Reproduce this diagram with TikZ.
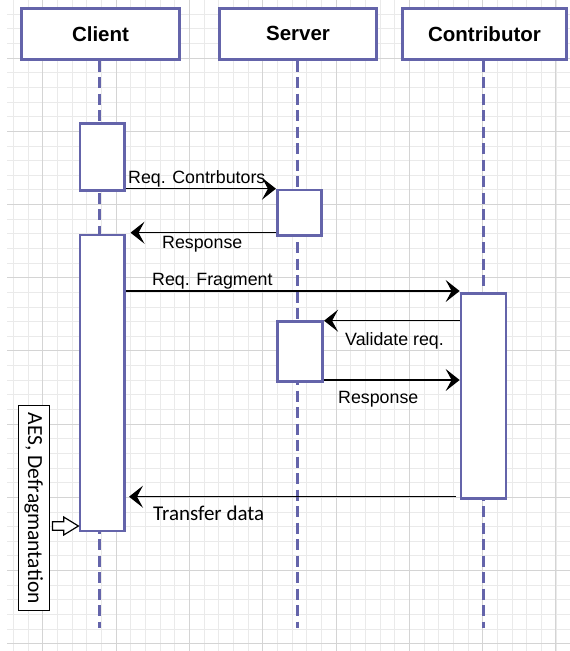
\documentclass[tikz,border=0pt]{standalone}
\usepackage{fontspec}
\setmainfont{Liberation Sans}
\newfontfamily\calib{Carlito}
\usetikzlibrary{arrows.meta,calc}
\definecolor{lifec}{RGB}{100,100,170}
\definecolor{gridminor}{RGB}{234,234,234}
\definecolor{gridmajor}{RGB}{212,212,212}
\begin{document}
\begin{tikzpicture}[x=1pt,y=-1pt,
  headbox/.style={draw=lifec, line width=2.7pt, fill=white, minimum height=51, inner sep=0,
    font=\fontsize{20.5}{24}\selectfont\bfseries},
  actbox/.style={draw=lifec, line width=2.7pt, fill=white, inner sep=0},
  lifeline/.style={draw=lifec, line width=2.6pt, dash pattern=on 11pt off 5.5pt},
  msg/.style={draw=black, line width=1.3pt, -{Stealth[length=14pt,width=22pt,inset=6pt]}},
  msglabel/.style={anchor=base west, inner sep=0, font=\fontsize{17.8}{20}\selectfont},
  minorgrid/.style={draw=gridminor, line width=0.8pt},
  majorgrid/.style={draw=gridmajor, line width=1pt}
]
\useasboundingbox (0,0) rectangle (570,651);
\fill[white] (0,0) rectangle (570,651);
% grid
\foreach \i in {0,...,37} \draw[minorgrid] ({13.5+\i*14.66},0) -- ({13.5+\i*14.66},651);
\foreach \j in {1,...,44} \draw[minorgrid] (7,{-0.5+\j*14.64}) -- (570,{-0.5+\j*14.64});
\foreach \i in {2,7,...,37} \draw[majorgrid] ({13.5+\i*14.66},0) -- ({13.5+\i*14.66},651);
\foreach \j in {4,9,...,44} \draw[majorgrid] (7,{-0.5+\j*14.64}) -- (570,{-0.5+\j*14.64});

% headers
\node[headbox, minimum width=157.6] (cl) at (100.5,33.8) {Client};
\node[headbox, minimum width=157.4] (sv) at (298,33.8) {Server};
\node[headbox, minimum width=164.4] (ct) at (484.5,33.8) {Contributor};

% lifeline ends
\coordinate (clend) at (99.5,628);
\coordinate (svend) at (297.5,628);
\coordinate (ctend) at (483.5,628);
\draw[lifeline] (cl.south -| clend) -- (clend);
\draw[lifeline] (sv.south -| svend) -- (svend);
\draw[lifeline] (ct.south -| ctend) -- (ctend);

% activation boxes
\node[actbox, minimum width=44.3, minimum height=67.4] (ca1) at (102.2,157) {};
\node[actbox, minimum width=44.7, minimum height=296] (ca2) at (102.3,383) {};
\node[actbox, minimum width=44.4, minimum height=45.7] (sa1) at (299.5,212.9) {};
\node[actbox, minimum width=45, minimum height=60] (sa2) at (300.2,351.7) {};
\node[actbox, minimum width=45, minimum height=205.4] (ta) at (483.5,396) {};

% messages
\draw[msg] (ca1.east |- sa1.north) -- (sa1.north west);
\draw[msg, shorten >=4.5pt] (sa1.west |- 0,232.7) -- (ca2.east |- 0,232.7);
\draw[msg] (ca2.east |- 0,291) -- (ta.west |- 0,291);
\draw[msg] (ta.west |- 0,320.7) -- (sa2.east |- 0,320.7);
\draw[msg] (sa2.east |- 0,380) -- (ta.west |- 0,380);
\draw[msg, shorten <=4pt, shorten >=3pt] (ta.west |- 0,496.7) -- (ca2.east |- 0,496.7);

% labels
\node[msglabel] (l1) at (128,183.3) {Req. Contrbutors};
\node[msglabel] (l2) at (162,248.3) {Response};
\node[msglabel] (l3) at (152,285.7) {Req. Fragment};
\node[msglabel] (l4) at (345,345) {Validate req.};
\node[msglabel] (l5) at (338,403.3) {Response};
\node[msglabel, font=\calib\fontsize{21}{24}\selectfont] (l6) at (153,520.7) {Transfer data};

% side note
\node[draw=black, line width=1.4pt, fill=white, rotate=-90, minimum width=205, minimum height=31,
  inner sep=0, font=\calib\fontsize{21.5}{24}\selectfont] (aes) at (33.8,508.2) {AES, Defragmantation};
\begin{scope}[shift={(aes.north |- 0,526)}]
\draw[black, line width=1.2pt, fill=white, line join=miter]
  (2.4,-4.3) -- (13.7,-4.3) -- (13.7,-9) -- (28.4,0) -- (13.7,9) -- (13.7,4.3) -- (2.4,4.3) -- cycle;
\end{scope}
\end{tikzpicture}
\end{document}
